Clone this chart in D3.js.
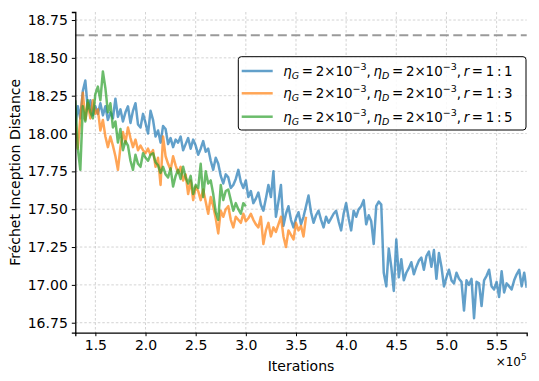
<!DOCTYPE html>
<html><head><meta charset="utf-8">
<script src="https://cdn.jsdelivr.net/npm/d3@7/dist/d3.min.js"></script>
<style>
html,body{margin:0;padding:0;background:#fff;}
svg{display:block;font-family:"DejaVu Sans",sans-serif;}
</style></head>
<body><svg id="chart" width="539" height="381"></svg>
<script>
// ---- data ----
const xStart = 130000;
const xStep = 2500;
const blueValues = [
18.05,18.18,18.10,18.28,18.35,18.16,18.22,18.12,18.18,18.13,
18.20,18.12,18.18,18.09,18.14,18.10,18.23,18.11,18.16,18.08,
18.14,18.18,18.07,18.15,18.20,18.06,18.04,18.13,18.07,18.00,
18.15,18.09,17.98,18.02,17.94,18.05,18.03,17.93,17.97,17.91,
17.96,17.94,17.98,17.89,17.93,17.97,17.90,17.96,17.92,17.86,
17.90,17.95,17.88,17.90,17.82,17.76,17.84,17.80,17.72,17.67,
17.73,17.71,17.64,17.66,17.70,17.76,17.68,17.64,17.69,17.58,
17.62,17.54,17.57,17.61,17.53,17.49,17.57,17.66,17.58,17.75,
17.45,17.55,17.66,17.39,17.47,17.52,17.43,17.38,17.44,17.48,
17.40,17.45,17.52,17.59,17.48,17.41,17.46,17.49,17.43,17.38,
17.45,17.41,17.44,17.47,17.49,17.42,17.36,17.47,17.54,17.44,
17.36,17.49,17.45,17.50,17.52,17.56,17.40,17.46,17.42,17.27,
17.52,17.55,17.53,17.08,16.99,17.24,17.12,16.96,17.30,17.05,
17.17,17.03,17.08,17.11,17.15,17.07,17.12,17.16,17.18,17.10,
17.19,17.22,17.12,17.23,17.04,17.21,17.12,16.99,17.05,17.10,
17.03,17.01,17.08,17.04,17.02,16.83,17.03,17.00,17.04,16.78,
17.02,17.01,16.86,17.03,17.06,17.10,16.99,16.97,17.02,16.92,
17.09,16.95,17.01,16.99,16.97,17.03,17.07,17.10,16.99,17.08,
16.98];
const orangeValues = [
18.05,17.90,18.10,18.27,18.09,18.20,18.10,18.22,18.13,18.16,
18.02,18.09,17.98,17.91,17.98,17.92,17.85,17.76,17.91,18.01,
17.94,18.04,17.97,17.91,17.96,17.89,17.92,17.89,17.87,17.90,
17.86,17.89,17.78,17.84,17.66,17.98,17.85,17.80,17.76,17.85,
17.79,17.74,17.78,17.69,17.73,17.60,17.69,17.56,17.65,17.62,
17.56,17.63,17.55,17.47,17.58,17.52,17.44,17.34,17.49,17.45,
17.50,17.52,17.43,17.38,17.45,17.43,17.41,17.47,17.42,17.44,
17.47,17.43,17.40,17.38,17.45,17.27,17.36,17.41,17.32,17.38,
17.35,17.40,17.45,17.32,17.25,17.36,17.33,17.30,17.41,17.36,
17.39,17.32,17.45];
const greenValues = [
18.22,17.90,17.76,18.18,18.08,18.22,18.14,18.10,18.26,18.31,
18.22,18.41,18.30,18.14,18.20,18.04,18.08,17.94,18.03,17.89,
17.95,17.92,17.82,17.76,17.86,17.80,17.78,17.87,17.84,17.82,
17.86,17.87,17.81,17.79,17.74,17.78,17.73,17.71,17.77,17.65,
17.72,17.76,17.70,17.78,17.71,17.67,17.72,17.60,17.66,17.64,
17.80,17.58,17.75,17.67,17.69,17.60,17.48,17.43,17.66,17.56,
17.62,17.63,17.56,17.49,17.54,17.50,17.47,17.54,17.52];
const seriesNames = ["1:1", "1:3", "1:5"];
const seriesColors = ["#1f77b4", "#ff7f0e", "#2ca02c"];
const baselineValue = 18.65;
const xTicks = [150000,200000,250000,300000,350000,400000,450000,500000,550000];
const yTicks = [16.75,17.00,17.25,17.50,17.75,18.00,18.25,18.50,18.75];
const xDomain = [130000, 580000];
const yDomain = [16.684, 18.803];

// ---- layout ----
const svg = d3.select("#chart");
const L = 75.3, R = 526.7, T = 12, B = 332.7;
const x = d3.scaleLinear().domain(xDomain).range([L, R]);
const y = d3.scaleLinear().domain(yDomain).range([B, T]);

// grid
const grid = svg.append("g");
grid.selectAll("line.gx").data(xTicks).join("line")
  .attr("x1", d => x(d)).attr("x2", d => x(d)).attr("y1", T).attr("y2", B)
  .attr("stroke", "#c8c8c8").attr("stroke-width", 0.8).attr("stroke-dasharray", "2.5,2");
grid.selectAll("line.gy").data(yTicks).join("line")
  .attr("x1", L).attr("x2", R).attr("y1", d => y(d)).attr("y2", d => y(d))
  .attr("stroke", "#c8c8c8").attr("stroke-width", 0.8).attr("stroke-dasharray", "2.5,2");

// baseline dashed
svg.append("line").attr("x1", L).attr("x2", R)
  .attr("y1", y(baselineValue)).attr("y2", y(baselineValue))
  .attr("stroke", "#9a9a9a").attr("stroke-width", 2).attr("stroke-dasharray", "9,4.5");

// series
const allSeries = [blueValues, orangeValues, greenValues];
const line = d3.line().x((d, i) => x(xStart + i * xStep)).y(d => y(d));
const clip = svg.append("clipPath").attr("id", "c").append("rect")
  .attr("x", L).attr("y", T).attr("width", R - L).attr("height", B - T);
allSeries.forEach((vals, k) => {
  svg.append("path").datum(vals).attr("d", line)
    .attr("clip-path", "url(#c)")
    .attr("fill", "none").attr("stroke", seriesColors[k])
    .attr("stroke-opacity", 0.7).attr("stroke-width", 2.5)
    .attr("stroke-linejoin", "round");
});

// axes
const xAxis = d3.axisBottom(x).tickValues(xTicks).tickFormat(d => (d / 1e5).toFixed(1))
  .tickSizeOuter(0).tickSize(3.5).tickPadding(4);
const yAxis = d3.axisLeft(y).tickValues(yTicks).tickFormat(d => d.toFixed(2))
  .tickSizeOuter(0).tickSize(3.5).tickPadding(4);
const gx = svg.append("g").attr("transform", `translate(0,${B})`).call(xAxis);
const gy = svg.append("g").attr("transform", `translate(${L},0)`).call(yAxis);
[gx, gy].forEach(g => {
  g.selectAll("text").attr("font-family", "DejaVu Sans").attr("font-size", 14).attr("fill", "#000");
  g.selectAll("line").attr("stroke", "#000").attr("stroke-width", 1);
  g.select(".domain").attr("stroke", "#000").attr("stroke-width", 1.3);
});

// axis labels
svg.append("text").attr("x", (L + R) / 2).attr("y", 371).attr("text-anchor", "middle")
  .attr("font-size", 14).text("Iterations");
svg.append("text").attr("transform", `translate(20,${(T + B) / 2}) rotate(-90)`)
  .attr("text-anchor", "middle").attr("font-size", 14).text("Fréchet Inception Distance");
const off = svg.append("text").attr("x", R).attr("y", 366).attr("text-anchor", "end").attr("font-size", 12);
off.append("tspan").text("×10");
off.append("tspan").attr("dy", -6).attr("font-size", 9).text("5");

// legend
const lg = svg.append("g");
lg.append("rect").attr("x", 238.3).attr("y", 56.7).attr("width", 287.7).attr("height", 73.3)
  .attr("rx", 3).attr("fill", "#fff").attr("fill-opacity", 0.85).attr("stroke", "#000").attr("stroke-width", 1);
const rowY = [71, 93.3, 116.7];
const fsMain = 13.4, fsSmall = 9.5;
seriesNames.forEach((nm, k) => {
  lg.append("line").attr("x1", 241.7).attr("x2", 272.7).attr("y1", rowY[k]).attr("y2", rowY[k])
    .attr("stroke", seriesColors[k]).attr("stroke-opacity", 0.7).attr("stroke-width", 2.5);
  const t = lg.append("text").attr("x", 283.3).attr("y", rowY[k] + 5).attr("font-size", fsMain);
  const add = (s, o = {}) => {
    const ts = t.append("tspan").text(s);
    if (o.it) ts.attr("font-style", "italic");
    if (o.fs) ts.attr("font-size", o.fs);
    if (o.dy) ts.attr("dy", o.dy);
    return ts;
  };
  add("η", {it: 1}); add("G", {it: 1, fs: fsSmall, dy: 3});
  add("\u2009=\u20092×10", {dy: -3}); add("−3", {fs: fsSmall, dy: -6});
  add(",\u2009", {dy: 6});
  add("η", {it: 1}); add("D", {it: 1, fs: fsSmall, dy: 3});
  add("\u2009=\u20092×10", {dy: -3}); add("−3", {fs: fsSmall, dy: -6});
  add(",\u2009", {dy: 6});
  add("r", {it: 1}); add("\u2009=\u2009" + nm.replace(":", "\u2009:\u2009"));
});
</script></body></html>
